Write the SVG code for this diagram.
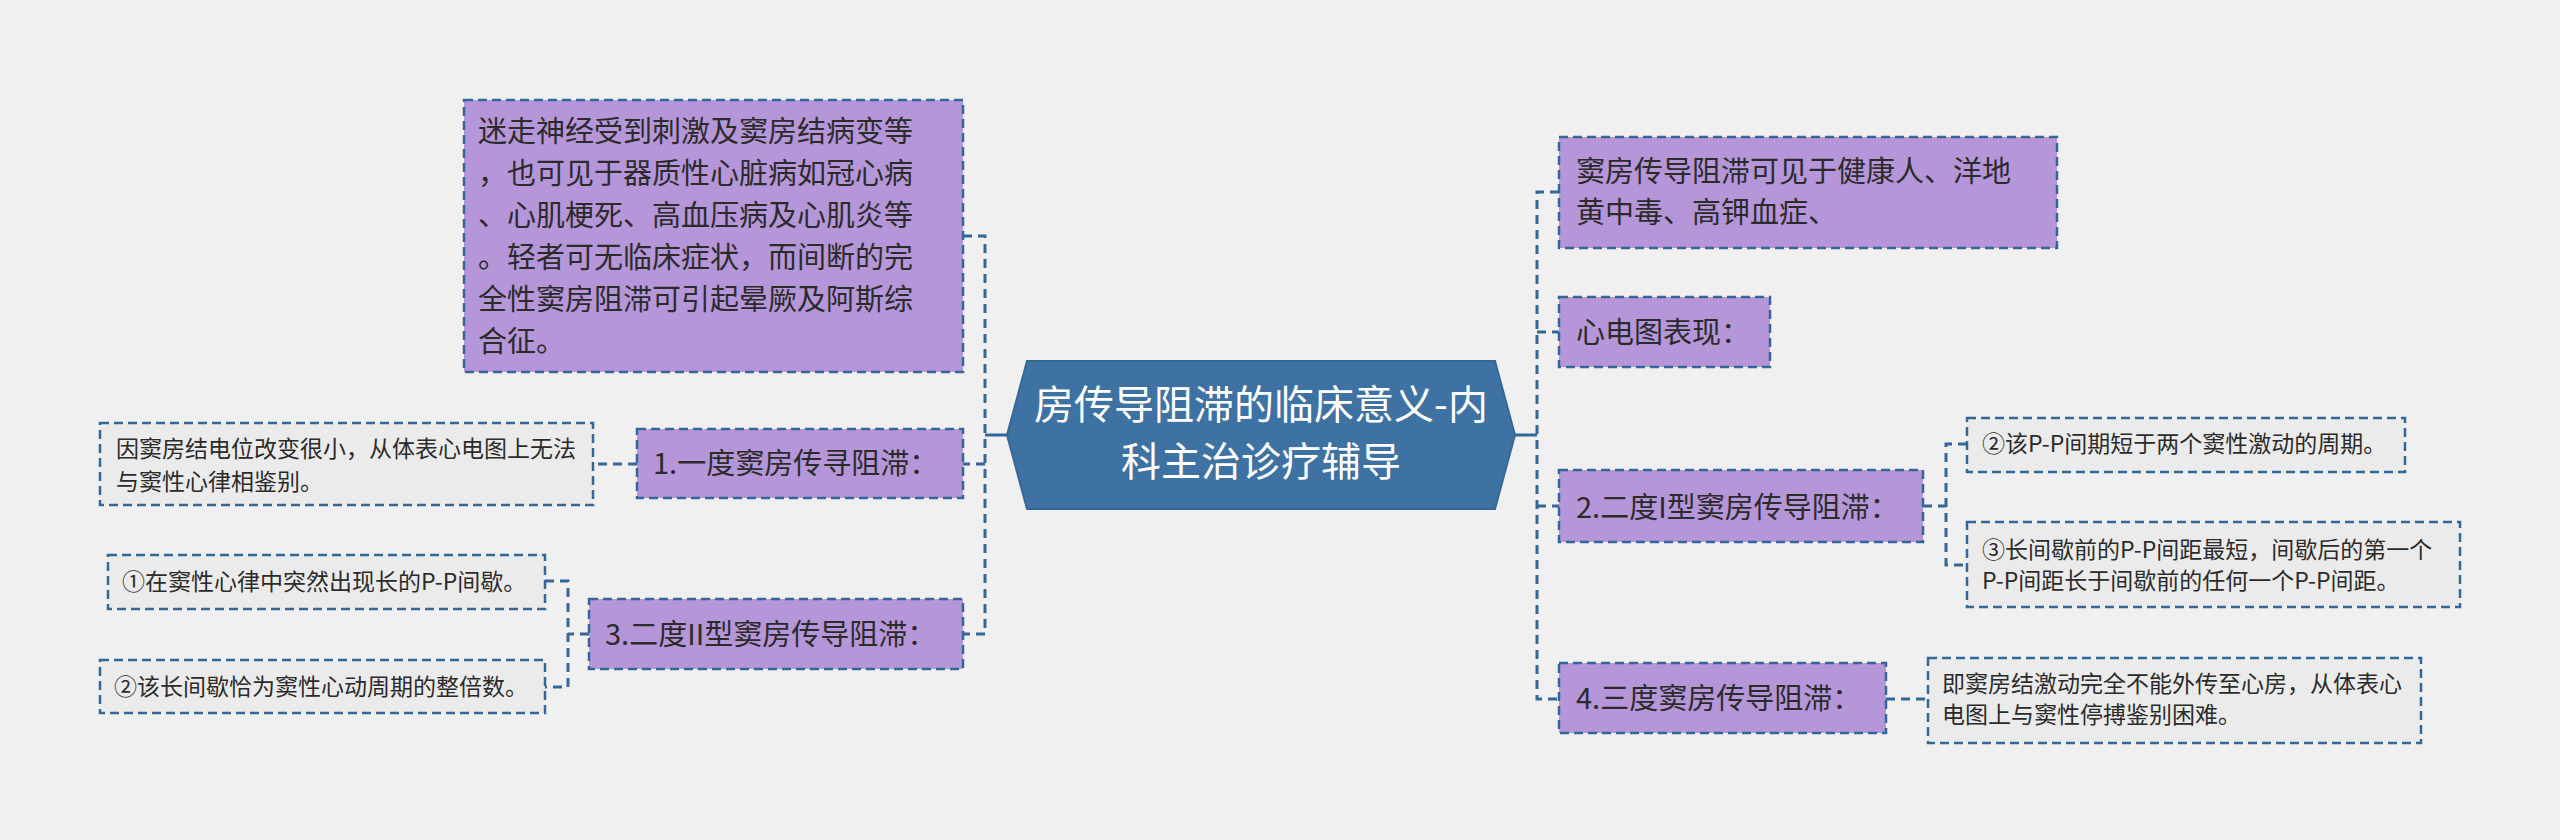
<svg xmlns="http://www.w3.org/2000/svg" width="2560" height="840" viewBox="0 0 2560 840">
<style>
text{font-family:"Noto Sans CJK SC","Noto Sans",sans-serif;fill:#2b2b2b}
.p{fill:#b596d9;stroke:#336699;stroke-width:2.5;stroke-dasharray:9 5}
.l{fill:#ebebeb;stroke:#336699;stroke-width:2.5;stroke-dasharray:9 5}
.t30{font-size:29px}
.t23{font-size:23px}
.c{fill:none;stroke:#336699;stroke-width:3;stroke-dasharray:9 6}
.s{fill:none;stroke:#336699;stroke-width:3}
</style>
<rect x="0" y="0" width="2560" height="840" fill="#f0f0f0"/>
<g id="connectors">
<path class="s" d="M1007 435 H985"/>
<path class="c" d="M963 236 H985 V634 H963"/>
<path class="c" d="M985 464 H963"/>
<path class="s" d="M1515 435 H1537"/>
<path class="c" d="M1559 192 H1537 V699 H1559"/>
<path class="c" d="M1537 332 H1559 M1537 506 H1559"/>
<path class="c" d="M637 464 H593"/>
<path class="c" d="M589 634 H568 M545 581 H568 V687 H545"/>
<path class="c" d="M1923 506 H1946 M1967 444 H1946 V565 H1967"/>
<path class="c" d="M1886 699 H1928"/>
</g>
<g id="center">
<polygon points="1007,435 1027,361 1495,361 1515,435 1495,509 1027,509" fill="#3e72a3" stroke="#356894" stroke-width="2"/>
<text x="1261" y="419" text-anchor="middle" style="font-size:40px;fill:#ffffff">房传导阻滞的临床意义-内</text>
<text x="1261" y="476" text-anchor="middle" style="font-size:40px;fill:#ffffff">科主治诊疗辅导</text>
</g>
<g id="n-tl">
<rect class="p" x="464" y="100" width="499" height="272"/>
<text class="t30" x="478" y="142">迷走神经受到刺激及窦房结病变等</text>
<text class="t30" x="478" y="184">，也可见于器质性心脏病如冠心病</text>
<text class="t30" x="478" y="226">、心肌梗死、高血压病及心肌炎等</text>
<text class="t30" x="478" y="268">。轻者可无临床症状，而间断的完</text>
<text class="t30" x="478" y="310">全性窦房阻滞可引起晕厥及阿斯综</text>
<text class="t30" x="478" y="352">合征。</text>
</g>
<g id="n1">
<rect class="p" x="637" y="429" width="326" height="69"/>
<text class="t30" x="653" y="474">1.一度窦房传寻阻滞：</text>
</g>
<g id="n1-leaf">
<rect class="l" x="100" y="423" width="493" height="82"/>
<text class="t23" x="116" y="457">因窦房结电位改变很小，从体表心电图上无法</text>
<text class="t23" x="116" y="490">与窦性心律相鉴别。</text>
</g>
<g id="n3">
<rect class="p" x="589" y="599" width="374" height="70"/>
<text class="t30" x="605" y="645">3.二度II型窦房传导阻滞：</text>
</g>
<g id="n3-leaf1">
<rect class="l" x="108" y="555" width="437" height="54"/>
<text class="t23" x="122" y="590">①在窦性心律中突然出现长的P-P间歇。</text>
</g>
<g id="n3-leaf2">
<rect class="l" x="100" y="660" width="445" height="53"/>
<text class="t23" x="114" y="695">②该长间歇恰为窦性心动周期的整倍数。</text>
</g>
<g id="r1">
<rect class="p" x="1559" y="137" width="498" height="111"/>
<text class="t30" x="1576" y="182">窦房传导阻滞可见于健康人、洋地</text>
<text class="t30" x="1576" y="223">黄中毒、高钾血症、</text>
</g>
<g id="r2">
<rect class="p" x="1559" y="297" width="211" height="70"/>
<text class="t30" x="1576" y="343">心电图表现：</text>
</g>
<g id="r3">
<rect class="p" x="1559" y="470" width="364" height="72"/>
<text class="t30" x="1576" y="518">2.二度I型窦房传导阻滞：</text>
</g>
<g id="r3-leaf1">
<rect class="l" x="1967" y="418" width="438" height="54"/>
<text class="t23" x="1982" y="452">②该P-P间期短于两个窦性激动的周期。</text>
</g>
<g id="r3-leaf2">
<rect class="l" x="1967" y="522" width="493" height="85"/>
<text class="t23" x="1982" y="558">③长间歇前的P-P间距最短，间歇后的第一个</text>
<text class="t23" x="1982" y="589">P-P间距长于间歇前的任何一个P-P间距。</text>
</g>
<g id="r4">
<rect class="p" x="1559" y="663" width="327" height="70"/>
<text class="t30" x="1576" y="709">4.三度窦房传导阻滞：</text>
</g>
<g id="r4-leaf">
<rect class="l" x="1928" y="658" width="493" height="85"/>
<text class="t23" x="1942" y="692">即窦房结激动完全不能外传至心房，从体表心</text>
<text class="t23" x="1942" y="723">电图上与窦性停搏鉴别困难。</text>
</g>
</svg>
